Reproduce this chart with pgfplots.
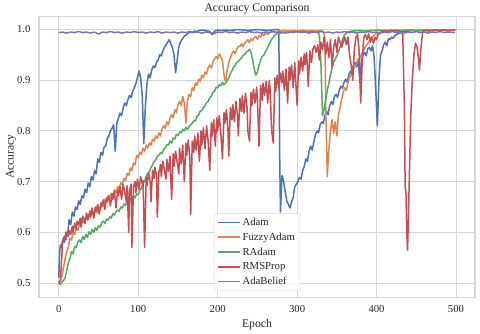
\documentclass[border=0pt]{standalone}
\usepackage{fontspec}
\setmainfont{Liberation Serif}
\usepackage{pgfplots}
\pgfplotsset{compat=1.18}

\definecolor{sbblue}{RGB}{76,114,176}
\definecolor{sborange}{RGB}{221,132,82}
\definecolor{sbgreen}{RGB}{85,168,104}
\definecolor{sbred}{RGB}{196,78,82}
\definecolor{sbpurple}{RGB}{129,114,179}
\definecolor{gridc}{RGB}{214,214,214}
\definecolor{txt}{RGB}{38,38,38}

\begin{document}
\begin{tikzpicture}
\begin{axis}[
  name=main,
  scale only axis,
  width=436pt, height=281pt,
  xmin=-24.95, xmax=523.95,
  ymin=0.4722, ymax=1.0265,
  xtick={0,100,200,300,400,500},
  ytick={0.5,0.6,0.7,0.8,0.9,1.0},
  yticklabel style={/pgf/number format/fixed, /pgf/number format/fixed zerofill, /pgf/number format/precision=1, xshift=-5pt},
  /pgf/number format/assume math mode=true,
  tick style={draw=none},
  ticklabel style={font=\fontsize{10.7}{12}\selectfont, text=txt},
  xticklabel style={yshift=-5pt},
  grid=major,
  major grid style={draw=gridc, line width=0.9pt},
  axis line style={draw=gridc, line width=1.1pt},
  title={Accuracy Comparison},
  title style={at={(axis description cs:0.5,1.0178)}, anchor=base, yshift=-6pt, font=\fontsize{11.7}{13}\selectfont, text=txt},
  xlabel={Epoch},
  ylabel={Accuracy},
  x label style={at={(axis description cs:0.5,-0.0996)}, anchor=center, font=\fontsize{11.7}{13}\selectfont, text=txt},
  y label style={at={(axis description cs:-0.0643,0.5)}, anchor=center, font=\fontsize{11.7}{13}\selectfont, text=txt},
  legend style={at={(0.5,0.022)}, anchor=south, draw=gridc, rounded corners=2pt,
    fill=white, fill opacity=0.8, text opacity=1, draw opacity=1,
    font=\fontsize{10.7}{12}\selectfont, text=txt, row sep=2pt, inner xsep=3pt, inner ysep=2.5pt},
  legend cell align=left,
  legend image code/.code={\draw[#1, line width=1.5pt, rounded corners=0pt] (0pt,0pt) -- (22pt,0pt);},
  every axis plot/.append style={line width=1.5pt, line join=round},
]
% Adam
\addplot[sbblue] coordinates {
(0,0.510)(1,0.560)(2,0.575)(3,0.570)(5,0.585)(7,0.580)(9,0.600)(11,0.595)(13,0.625)(15,0.615)
(17,0.640)(19,0.632)(21,0.650)(23,0.645)(25,0.662)(27,0.655)(29,0.672)(31,0.668)(33,0.685)(35,0.678)
(37,0.697)(39,0.690)(41,0.710)(43,0.703)(45,0.722)(47,0.715)(49,0.745)(51,0.738)(53,0.758)(55,0.752)
(57,0.768)(59,0.770)(61,0.785)(63,0.790)(65,0.800)(67,0.805)(69,0.812)(71,0.760)(73,0.815)(75,0.825)
(77,0.835)(79,0.830)(81,0.845)(83,0.855)(85,0.850)(87,0.862)(89,0.870)(91,0.866)(93,0.878)(95,0.885)
(97,0.893)(99,0.905)(101,0.918)(103,0.905)(105,0.870)(107,0.775)(109,0.850)(111,0.894)(113,0.912)(115,0.905)
(117,0.920)(119,0.928)(121,0.925)(123,0.935)(125,0.940)(127,0.950)(129,0.948)(131,0.958)(133,0.965)(135,0.970)
(137,0.975)(139,0.980)(141,0.972)(143,0.965)(145,0.950)(147,0.915)(149,0.940)(151,0.965)(153,0.975)(155,0.980)
(157,0.985)(159,0.988)(161,0.990)(163,0.993)(165,0.995)(168,0.994)(171,0.997)(174,0.996)(177,0.998)(180,0.999)
(185,0.998)(190,0.996)(193,0.990)(196,0.997)(200,0.999)(205,0.998)(210,0.999)(215,0.998)(220,0.999)(226,1.000)
(232,0.999)(238,0.998)(244,0.999)(250,1.000)(256,0.999)(262,0.998)(268,0.999)(274,1.000)(277,0.999)(278,0.760)
(279,0.640)(281,0.712)(283,0.700)(285,0.680)(287,0.662)(289,0.655)(291,0.648)(293,0.660)(295,0.668)(297,0.690)
(299,0.695)(301,0.700)(303,0.708)(305,0.705)(307,0.722)(309,0.730)(311,0.745)(313,0.740)(315,0.760)(317,0.770)
(319,0.762)(321,0.778)(323,0.792)(325,0.800)(327,0.796)(329,0.812)(331,0.818)(333,0.815)(335,0.830)(337,0.838)
(339,0.832)(341,0.850)(343,0.858)(345,0.852)(347,0.868)(349,0.872)(351,0.866)(353,0.880)(355,0.888)(357,0.884)
(359,0.895)(361,0.902)(363,0.896)(365,0.910)(367,0.918)(369,0.912)(371,0.930)(373,0.935)(375,0.926)(377,0.942)
(379,0.895)(381,0.940)(383,0.950)(385,0.955)(387,0.948)(389,0.962)(391,0.965)(393,0.958)(395,0.968)(397,0.945)
(399,0.880)(401,0.810)(403,0.900)(405,0.950)(407,0.958)(409,0.970)(411,0.975)(413,0.968)(415,0.982)(417,0.980)
(419,0.985)(421,0.983)(423,0.988)(425,0.990)(428,0.992)(432,0.995)(436,0.996)(440,0.997)(445,0.998)(450,0.997)
(456,0.998)(462,0.999)(468,0.998)(474,0.999)(480,0.998)(486,0.999)(492,0.998)(499,0.999)};
\addlegendentry{Adam}
% FuzzyAdam
\addplot[sborange] coordinates {
(0,0.500)(2,0.505)(4,0.515)(6,0.532)(8,0.548)(10,0.562)(12,0.571)(14,0.588)(16,0.585)(18,0.600)
(20,0.596)(22,0.608)(24,0.604)(26,0.615)(28,0.612)(30,0.625)(32,0.618)(34,0.630)(36,0.624)(38,0.636)
(40,0.628)(42,0.640)(44,0.633)(46,0.645)(48,0.638)(50,0.650)(52,0.646)(54,0.658)(56,0.652)(58,0.665)
(60,0.660)(62,0.672)(64,0.666)(66,0.677)(68,0.672)(70,0.684)(72,0.678)(74,0.690)(76,0.686)(78,0.698)
(80,0.694)(82,0.706)(84,0.702)(86,0.716)(88,0.712)(90,0.727)(92,0.722)(94,0.737)(96,0.733)(98,0.752)
(100,0.748)(102,0.758)(104,0.754)(106,0.766)(108,0.760)(110,0.772)(112,0.766)(114,0.776)(116,0.772)(118,0.784)
(120,0.780)(122,0.790)(124,0.785)(126,0.796)(128,0.790)(130,0.804)(132,0.810)(134,0.805)(136,0.818)(138,0.812)
(140,0.826)(142,0.832)(144,0.826)(146,0.842)(148,0.836)(150,0.852)(152,0.858)(154,0.850)(156,0.868)(158,0.855)
(160,0.815)(162,0.860)(164,0.872)(166,0.868)(168,0.885)(170,0.880)(172,0.895)(174,0.890)(176,0.902)(178,0.898)
(180,0.910)(182,0.905)(184,0.916)(186,0.912)(188,0.925)(190,0.930)(192,0.924)(194,0.936)(196,0.942)(198,0.947)
(200,0.942)(202,0.952)(204,0.946)(206,0.938)(208,0.910)(210,0.895)(212,0.920)(214,0.935)(216,0.945)(218,0.952)
(220,0.958)(222,0.952)(224,0.962)(226,0.966)(228,0.967)(230,0.972)(232,0.966)(234,0.974)(236,0.976)(238,0.980)
(240,0.974)(242,0.982)(244,0.978)(246,0.984)(248,0.986)(250,0.981)(252,0.988)(254,0.985)(256,0.991)(258,0.988)
(260,0.993)(263,0.990)(266,0.995)(270,0.996)(274,0.994)(278,0.997)(282,0.998)(288,0.997)(294,0.998)(300,0.997)
(306,0.998)(312,0.997)(318,0.998)(324,0.997)(330,0.998)(333,0.996)(335,0.985)(336,0.850)(338,0.710)(340,0.765)
(342,0.800)(344,0.822)(346,0.795)(348,0.818)(350,0.790)(352,0.832)(354,0.845)(356,0.862)(358,0.876)(360,0.885)
(362,0.880)(364,0.896)(366,0.906)(368,0.910)(370,0.918)(372,0.926)(374,0.930)(376,0.938)(378,0.941)(380,0.948)
(382,0.955)(384,0.960)(386,0.966)(388,0.970)(390,0.975)(392,0.980)(394,0.985)(396,0.987)(398,0.990)(401,0.993)
(405,0.995)(410,0.997)(416,0.998)(424,0.997)(432,0.998)(440,0.999)(450,0.998)(460,0.999)(470,0.998)(480,0.999)
(490,0.998)(499,0.999)};
\addlegendentry{FuzzyAdam}
% RAdam
\addplot[sbgreen] coordinates {
(0,0.500)(2,0.497)(4,0.502)(6,0.505)(8,0.510)(10,0.525)(12,0.540)(14,0.548)(16,0.562)(18,0.558)
(20,0.572)(22,0.570)(24,0.580)(26,0.585)(28,0.580)(30,0.592)(32,0.586)(34,0.596)(36,0.590)(38,0.601)
(40,0.596)(42,0.606)(44,0.600)(46,0.609)(48,0.604)(50,0.613)(52,0.610)(54,0.619)(56,0.622)(58,0.617)
(60,0.626)(62,0.624)(64,0.631)(66,0.628)(68,0.637)(70,0.634)(72,0.641)(74,0.644)(76,0.641)(78,0.650)
(80,0.648)(82,0.656)(84,0.653)(86,0.661)(88,0.658)(90,0.666)(92,0.663)(94,0.671)(96,0.668)(98,0.676)
(100,0.674)(102,0.683)(104,0.687)(106,0.696)(108,0.700)(110,0.711)(112,0.716)(114,0.719)(116,0.728)(118,0.733)
(120,0.740)(122,0.743)(124,0.750)(126,0.752)(128,0.757)(130,0.755)(132,0.764)(134,0.766)(136,0.773)(138,0.772)
(140,0.780)(142,0.776)(144,0.786)(146,0.784)(148,0.793)(150,0.791)(152,0.798)(154,0.796)(156,0.803)(158,0.800)
(160,0.807)(162,0.803)(164,0.809)(166,0.812)(168,0.815)(170,0.821)(172,0.819)(174,0.829)(176,0.831)(178,0.839)
(180,0.840)(182,0.846)(184,0.849)(186,0.856)(188,0.858)(190,0.866)(192,0.868)(194,0.876)(196,0.878)(198,0.886)
(200,0.885)(202,0.891)(204,0.889)(206,0.896)(208,0.891)(210,0.894)(212,0.899)(214,0.905)(216,0.913)(218,0.919)
(220,0.926)(222,0.929)(224,0.936)(226,0.937)(228,0.941)(230,0.944)(232,0.949)(234,0.951)(236,0.956)(238,0.957)
(240,0.961)(242,0.955)(244,0.940)(246,0.922)(248,0.910)(250,0.916)(252,0.930)(254,0.939)(256,0.947)(258,0.949)
(260,0.956)(262,0.961)(264,0.969)(266,0.974)(268,0.981)(270,0.985)(272,0.989)(274,0.991)(277,0.994)(280,0.993)
(284,0.995)(290,0.994)(296,0.996)(302,0.995)(308,0.996)(314,0.995)(320,0.996)(326,0.995)(328,0.990)(330,0.930)
(332,0.830)(334,0.842)(336,0.860)(338,0.881)(340,0.894)(342,0.911)(344,0.924)(346,0.936)(348,0.941)(350,0.948)
(352,0.956)(354,0.965)(356,0.975)(358,0.984)(360,0.990)(362,0.993)(365,0.996)(370,0.997)(378,0.998)(386,0.997)
(394,0.998)(402,0.999)(412,0.998)(422,0.999)(432,0.998)(442,0.999)(452,0.998)(462,0.999)(472,0.998)(482,0.999)
(490,0.998)(499,0.999)};
\addlegendentry{RAdam}
% RMSProp
\addplot[sbred] coordinates {
(0,0.500)(2,0.505)(4,0.560)(5,0.585)(7,0.592)(9,0.585)(10,0.600)(12,0.592)(13,0.604)(15,0.596)
(17,0.612)(18,0.600)(20,0.618)(22,0.606)(23,0.622)(25,0.615)(27,0.628)(28,0.610)(30,0.632)(32,0.626)
(33,0.618)(35,0.638)(37,0.625)(39,0.642)(40,0.632)(42,0.648)(44,0.628)(46,0.650)(47,0.642)(49,0.655)
(51,0.636)(53,0.658)(54,0.650)(56,0.664)(58,0.645)(60,0.668)(61,0.660)(63,0.672)(65,0.652)(67,0.676)
(68,0.665)(70,0.680)(72,0.648)(74,0.684)(75,0.672)(77,0.690)(79,0.665)(81,0.694)(83,0.680)(85,0.660)
(86,0.692)(88,0.600)(89,0.682)(91,0.695)(92,0.570)(94,0.690)(96,0.700)(97,0.678)(99,0.705)(101,0.685)
(103,0.710)(105,0.695)(106,0.702)(108,0.570)(110,0.708)(111,0.692)(113,0.718)(115,0.700)(116,0.660)(118,0.722)
(120,0.706)(121,0.728)(123,0.712)(124,0.630)(126,0.718)(128,0.734)(129,0.710)(131,0.740)(133,0.722)(135,0.705)
(136,0.744)(138,0.720)(140,0.750)(142,0.665)(144,0.755)(145,0.730)(147,0.760)(149,0.738)(151,0.715)(152,0.766)
(154,0.735)(156,0.772)(158,0.700)(160,0.776)(161,0.752)(163,0.782)(165,0.745)(166,0.635)(168,0.780)(170,0.758)
(171,0.790)(173,0.762)(175,0.796)(177,0.740)(179,0.800)(180,0.772)(182,0.806)(184,0.765)(186,0.810)(188,0.780)
(190,0.722)(192,0.816)(193,0.790)(195,0.822)(197,0.770)(199,0.826)(200,0.800)(202,0.830)(204,0.795)(206,0.745)
(208,0.836)(209,0.815)(211,0.842)(213,0.800)(214,0.750)(216,0.846)(218,0.822)(219,0.852)(221,0.818)(223,0.858)
(225,0.830)(226,0.790)(228,0.864)(230,0.838)(231,0.870)(233,0.835)(235,0.874)(237,0.845)(238,0.800)(240,0.780)
(242,0.876)(243,0.850)(245,0.882)(247,0.855)(249,0.886)(250,0.865)(252,0.770)(254,0.890)(256,0.860)(257,0.894)
(259,0.870)(261,0.898)(263,0.855)(265,0.900)(266,0.880)(268,0.800)(270,0.776)(272,0.905)(273,0.878)(275,0.910)
(277,0.885)(279,0.914)(281,0.895)(282,0.918)(284,0.880)(286,0.922)(288,0.855)(290,0.926)(291,0.900)(293,0.930)
(295,0.885)(297,0.935)(298,0.905)(300,0.850)(302,0.938)(303,0.912)(305,0.945)(307,0.918)(309,0.952)(310,0.930)
(312,0.955)(314,0.888)(316,0.958)(318,0.935)(320,0.962)(322,0.968)(324,0.955)
(326,0.970)(328,0.940)(330,0.975)(332,0.960)(334,0.985)(336,0.950)(338,0.975)
(340,0.945)(342,0.980)(344,0.925)(346,0.965)(348,0.980)(350,0.955)(352,0.985)(354,0.975)(356,0.965)(358,0.975)
(360,0.985)(362,0.970)(364,0.985)(366,0.950)(368,0.930)(370,0.900)(372,0.960)(374,0.985)(376,0.990)(378,0.960)
(380,0.855)(382,0.940)(384,0.985)(386,0.990)(388,0.980)(390,0.992)(392,0.975)(394,0.985)(396,0.973)(398,0.985)
(400,0.980)(402,0.990)(405,0.994)(408,0.997)(411,0.998)(414,0.995)(417,0.998)(420,0.997)(424,0.998)(428,0.997)
(431,0.996)(433,0.990)(435,0.850)(436,0.690)(437,0.680)(438,0.600)(439,0.565)(440,0.620)(442,0.760)(443,0.830)
(445,0.900)(447,0.950)(449,0.973)(451,0.965)(453,0.940)(454,0.920)(456,0.965)(458,0.995)(461,0.998)(466,0.997)
(472,0.999)(478,0.998)(484,0.999)(490,0.998)(499,0.999)};
\addlegendentry{RMSProp}
% AdaBelief
\addplot[sbpurple] coordinates {
(0,0.994)(5,0.995)(10,0.993)(15,0.995)(20,0.994)(25,0.996)(30,0.994)(35,0.995)(40,0.993)(45,0.995)
(50,0.991)(55,0.995)(60,0.994)(65,0.996)(70,0.994)(75,0.995)(80,0.993)(85,0.995)(90,0.994)(95,0.996)
(100,0.994)(105,0.995)(110,0.993)(115,0.995)(120,0.994)(125,0.996)(130,0.993)(135,0.995)(140,0.994)(145,0.995)
(150,0.993)(155,0.995)(160,0.994)(165,0.996)(170,0.994)(175,0.995)(180,0.993)(185,0.995)(190,0.994)(195,0.992)
(200,0.995)(205,0.994)(210,0.996)(215,0.994)(220,0.995)(225,0.993)(230,0.995)(235,0.994)(240,0.996)(245,0.994)
(250,0.995)(255,0.993)(260,0.995)(265,0.994)(270,0.996)(275,0.994)(280,0.995)(285,0.993)(290,0.995)(295,0.994)
(300,0.996)(305,0.994)(310,0.995)(315,0.993)(320,0.995)(325,0.994)(330,0.996)(335,0.994)(340,0.995)(345,0.993)
(350,0.995)(355,0.994)(360,0.996)(365,0.994)(370,0.995)(375,0.993)(380,0.995)(385,0.994)(390,0.996)(395,0.994)
(400,0.995)(405,0.993)(410,0.995)(415,0.994)(420,0.996)(425,0.994)(430,0.995)(435,0.993)(440,0.995)(445,0.994)
(450,0.996)(455,0.994)(460,0.995)(465,0.993)(470,0.995)(475,0.994)(480,0.996)(485,0.994)(490,0.995)(499,0.994)};
\addlegendentry{AdaBelief}
\end{axis}
\path ([xshift=-39pt,yshift=-36.3pt]main.south west) rectangle ([xshift=5pt,yshift=15.7pt]main.north east);
\end{tikzpicture}
\end{document}
